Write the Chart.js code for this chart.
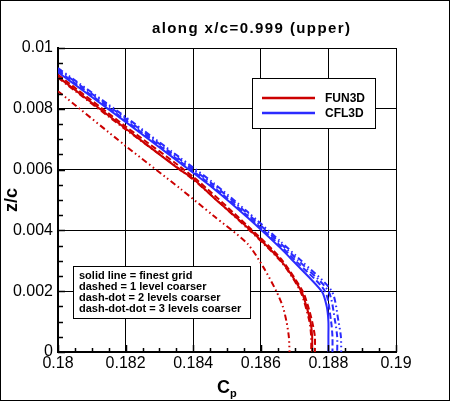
<!DOCTYPE html>
<html>
<head>
<meta charset="utf-8">
<script src="https://cdn.jsdelivr.net/npm/chart.js@4.4.0/dist/chart.umd.min.js"></script>
<style>
  html, body { margin: 0; padding: 0; background: #fff; }
  canvas { display: block; }
</style>
</head>
<body>
<canvas id="c" width="450" height="401"></canvas>
<script>
// ---------------- DATA ----------------
const titleText = 'along x/c=0.999 (upper)';
const xTickValues = [0.18, 0.182, 0.184, 0.186, 0.188, 0.19];
const xTickLabels = ['0.18', '0.182', '0.184', '0.186', '0.188', '0.19'];
const yTickValues = [0, 0.002, 0.004, 0.006, 0.008, 0.01];
const yTickLabels = ['0', '0.002', '0.004', '0.006', '0.008', '0.01'];
const legendNames = ['FUN3D', 'CFL3D'];
const noteLines = [
  'solid line = finest grid',
  'dashed = 1 level coarser',
  'dash-dot = 2 levels coarser',
  'dash-dot-dot = 3 levels coarser'
];

// FUN3D (Cp, z/c)
const fun3dFineCp = [0.1800, 0.1820, 0.1836, 0.1840, 0.1846, 0.1856, 0.1866, 0.1872, 0.18735, 0.18747, 0.18752, 0.18752];
const fun3dFineZ  = [0.00905, 0.00735, 0.00600, 0.00570, 0.00508, 0.00410, 0.00300, 0.00200, 0.00150, 0.00100, 0.00050, 0.00000];
const fun3dL1Cp = [0.1800, 0.1820, 0.1840, 0.1856, 0.1866, 0.18724, 0.18740, 0.18752, 0.18760, 0.18760];
const fun3dL1Z  = [0.00912, 0.00742, 0.00576, 0.00416, 0.00306, 0.00200, 0.00150, 0.00100, 0.00050, 0.00000];
const fun3dL2Cp = [0.1800, 0.1820, 0.1840, 0.1856, 0.1866, 0.18717, 0.18744, 0.18749, 0.18749];
const fun3dL2Z  = [0.00902, 0.00732, 0.00567, 0.00407, 0.00297, 0.00200, 0.00100, 0.00050, 0.00000];
const fun3dL3Cp = [0.1800, 0.1820, 0.18361, 0.18459, 0.1856, 0.18607, 0.18646, 0.18665, 0.18676, 0.18683, 0.18685];
const fun3dL3Z  = [0.00858, 0.00678, 0.00538, 0.00449, 0.00357, 0.00280, 0.00200, 0.00150, 0.00100, 0.00050, 0.00000];

// CFL3D (Cp, z/c)
const cfl3dFineCp = [0.1800, 0.1820, 0.1836, 0.1846, 0.1856, 0.1866, 0.18695, 0.1878, 0.18795, 0.18800, 0.18800, 0.18800];
const cfl3dFineZ  = [0.00920, 0.00757, 0.00623, 0.00538, 0.00443, 0.00340, 0.00300, 0.00200, 0.00150, 0.00100, 0.00050, 0.00000];
const cfl3dL1Cp = [0.1800, 0.1820, 0.1836, 0.1846, 0.1856, 0.1866, 0.18703, 0.18790, 0.18808, 0.18812, 0.18812];
const cfl3dL1Z  = [0.00925, 0.00762, 0.00628, 0.00543, 0.00449, 0.00347, 0.00300, 0.00200, 0.00100, 0.00050, 0.00000];
const cfl3dL2Cp = [0.1800, 0.1820, 0.1836, 0.1846, 0.1856, 0.1866, 0.18712, 0.18800, 0.18820, 0.18826, 0.18826];
const cfl3dL2Z  = [0.00930, 0.00768, 0.00634, 0.00550, 0.00456, 0.00355, 0.00300, 0.00200, 0.00100, 0.00050, 0.00000];
const cfl3dL3Cp = [0.1800, 0.1820, 0.1836, 0.1846, 0.1856, 0.1866, 0.18720, 0.18810, 0.18830, 0.18837, 0.18838];
const cfl3dL3Z  = [0.00934, 0.00773, 0.00640, 0.00556, 0.00462, 0.00362, 0.00300, 0.00200, 0.00100, 0.00050, 0.00000];

// ---------------- STYLE ----------------
const RED = '#cc0000';
const BLUE = '#2b2bff';
const FONT = '"Liberation Sans", Arial, Helvetica, sans-serif';
const DASH = {
  solid: [],
  dashed: [6, 3],
  dashdot: [6, 3, 1.5, 3],
  dashdotdot: [6, 3, 1.5, 3, 1.5, 3]
};

function pts(xs, ys) { return xs.map((x, i) => ({ x: x, y: ys[i] })); }
function ds(label, xs, ys, color, dash) {
  return {
    label: label, data: pts(xs, ys), showLine: true,
    borderColor: color, backgroundColor: color, borderWidth: 2,
    borderDash: dash, pointRadius: 0, tension: 0.25, fill: false
  };
}

const datasets = [
  ds('CFL3D L3', cfl3dL3Cp, cfl3dL3Z, BLUE, DASH.dashdotdot),
  ds('CFL3D L2', cfl3dL2Cp, cfl3dL2Z, BLUE, DASH.dashdot),
  ds('CFL3D L1', cfl3dL1Cp, cfl3dL1Z, BLUE, DASH.dashed),
  ds('CFL3D',    cfl3dFineCp, cfl3dFineZ, BLUE, DASH.solid),
  ds('FUN3D L3', fun3dL3Cp, fun3dL3Z, RED, DASH.dashdotdot),
  ds('FUN3D L2', fun3dL2Cp, fun3dL2Z, RED, DASH.dashdot),
  ds('FUN3D L1', fun3dL1Cp, fun3dL1Z, RED, DASH.dashed),
  ds('FUN3D',    fun3dFineCp, fun3dFineZ, RED, DASH.solid)
];

// ---------------- DECORATIONS ----------------
const decorations = {
  id: 'decorations',
  afterDraw(chart) {
    const ctx = chart.ctx;
    const a = chart.chartArea;
    const xs = chart.scales.x, ys = chart.scales.y;
    ctx.save();
    // title
    ctx.fillStyle = '#000';
    ctx.font = 'bold 15px ' + FONT;
    ctx.textBaseline = 'middle'; ctx.textAlign = 'left';
    if ('letterSpacing' in ctx) ctx.letterSpacing = '1.4px';
    ctx.fillText(titleText, 152, 29);
    if ('letterSpacing' in ctx) ctx.letterSpacing = '0px';
    // top and right frame of plot
    ctx.strokeStyle = '#000'; ctx.lineWidth = 1; ctx.setLineDash([]);
    ctx.beginPath();
    ctx.moveTo(a.left, a.top + 0.5); ctx.lineTo(a.right + 0.5, a.top + 0.5);
    ctx.lineTo(a.right + 0.5, a.bottom);
    ctx.stroke();
    // minor / major ticks inside (bottom & left)
    ctx.lineWidth = 1.5;
    for (let k = 0; k <= 20; k++) {
      const v = xs.min + k * (xs.max - xs.min) / 20;
      const px = Math.round(xs.getPixelForValue(v)) + 0.5;
      const len = (k % 4 === 0) ? 7 : 4;
      ctx.beginPath(); ctx.moveTo(px, a.bottom); ctx.lineTo(px, a.bottom - len); ctx.stroke();
    }
    for (let k = 0; k <= 20; k++) {
      const v = ys.min + k * (ys.max - ys.min) / 20;
      const py = Math.round(ys.getPixelForValue(v)) + 0.5;
      const len = (k % 4 === 0) ? 7 : 5;
      ctx.beginPath(); ctx.moveTo(a.left, py); ctx.lineTo(a.left + len, py); ctx.stroke();
    }
    // legend box
    ctx.lineWidth = 1;
    ctx.fillStyle = '#fff';
    ctx.fillRect(252.5, 78.5, 123, 50);
    ctx.strokeRect(252.5, 78.5, 123, 50);
    const legColors = [RED, BLUE];
    const legY = [98, 113];
    ctx.font = 'bold 12px ' + FONT;
    ctx.textBaseline = 'middle'; ctx.textAlign = 'left';
    for (let i = 0; i < 2; i++) {
      ctx.strokeStyle = legColors[i]; ctx.lineWidth = 2.5;
      ctx.beginPath(); ctx.moveTo(262, legY[i]); ctx.lineTo(315, legY[i]); ctx.stroke();
      ctx.fillStyle = '#000';
      ctx.fillText(legendNames[i], 325, legY[i] + 0.5);
    }
    // note box
    ctx.strokeStyle = '#000'; ctx.lineWidth = 1;
    ctx.fillStyle = '#fff';
    ctx.fillRect(73.5, 266.5, 177, 52);
    ctx.strokeRect(73.5, 266.5, 177, 52);
    ctx.fillStyle = '#000';
    ctx.font = 'bold 11px ' + FONT;
    for (let i = 0; i < noteLines.length; i++) {
      ctx.fillText(noteLines[i], 79, 275.5 + i * 11);
    }
    // x-axis title C_p
    ctx.textBaseline = 'alphabetic';
    ctx.font = 'bold 18px ' + FONT;
    ctx.fillText('C', 217, 393);
    ctx.font = 'bold 11px ' + FONT;
    ctx.fillText('p', 230, 397);
    // outer frame
    ctx.strokeStyle = '#000'; ctx.lineWidth = 1;
    ctx.strokeRect(0.5, 0.5, chart.width - 1, chart.height - 1);
    ctx.restore();
  }
};

new Chart(document.getElementById('c'), {
  type: 'scatter',
  data: { datasets: datasets },
  options: {
    responsive: false,
    animation: false,
    devicePixelRatio: 1,
    layout: { padding: { left: 0, right: 54, top: 48, bottom: 0 } },
    plugins: {
      legend: { display: false },
      tooltip: { enabled: false },
      title: { display: false }
    },
    scales: {
      x: {
        type: 'linear', min: 0.18, max: 0.19,
        afterBuildTicks: s => { s.ticks = xTickValues.map(v => ({ value: v })); },
        afterFit: s => { s.height = 49; },
        ticks: {
          color: '#000', padding: 2, maxRotation: 0, autoSkip: false,
          font: { family: FONT, size: 16 },
          callback: (v, i) => xTickLabels[i]
        },
        grid: { color: '#000', lineWidth: 1, drawTicks: false },
        border: { display: true, color: '#000', width: 2 }
      },
      y: {
        type: 'linear', min: 0, max: 0.01,
        afterBuildTicks: s => { s.ticks = yTickValues.map(v => ({ value: v })); },
        afterFit: s => { s.width = 58; },
        ticks: {
          color: '#000', padding: 5, autoSkip: false,
          font: { family: FONT, size: 16 },
          callback: (v, i) => yTickLabels[i]
        },
        grid: { color: '#000', lineWidth: 1, drawTicks: false },
        border: { display: true, color: '#000', width: 2 },
        title: {
          display: true, text: 'z/c', color: '#000',
          font: { family: FONT, size: 18, weight: 'bold' },
          padding: { top: 1, bottom: 0 }
        }
      }
    }
  },
  plugins: [decorations]
});
</script>
</body>
</html>
